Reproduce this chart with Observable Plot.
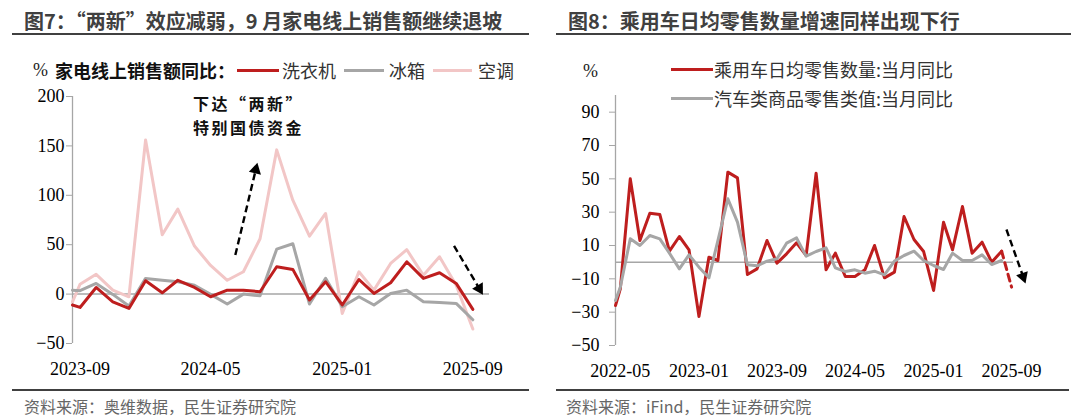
<!DOCTYPE html>
<html><head><meta charset="utf-8">
<script src="https://cdn.jsdelivr.net/npm/d3@7"></script>
<script src="https://cdn.jsdelivr.net/npm/@observablehq/plot@0.6"></script>
<style>
body{margin:0;background:#fff;width:1080px;height:418px;position:relative;overflow:hidden;font-family:"Noto Sans CJK SC",sans-serif;}
.abs{position:absolute;white-space:nowrap;}
.title{font-size:20px;font-weight:bold;color:#404040;line-height:24px;}
.hr{position:absolute;height:2px;background:#404040;}
.src{font-size:16px;color:#666;line-height:20px;}
.leg{font-size:18px;color:#333;line-height:22px;}
.pct{font-family:"Liberation Serif",serif;font-size:18px;color:#222;line-height:22px;}
.sw{position:absolute;height:3px;}
.note{font-size:16px;font-weight:bold;color:#111;line-height:24px;letter-spacing:2.5px;}
.plot{position:absolute;top:85px;}
.plot svg text{fill:#000;}
</style></head><body>

<div class="abs title" style="left:24px;top:9px;">图7：“两新”效应减弱，9 月家电线上销售额继续退坡</div>
<div class="hr" style="left:12px;width:517px;top:33px;"></div>
<div class="abs title" style="left:568px;top:9px;">图8：乘用车日均零售数量增速同样出现下行</div>
<div class="hr" style="left:556px;width:515px;top:33px;"></div>

<div id="left" class="plot" style="left:0px;"></div>
<div id="right" class="plot" style="left:540px;"></div>

<div class="abs pct" style="left:33px;top:59px;">%</div>
<div class="abs leg" style="left:55px;top:59px;font-weight:bold;color:#111;">家电线上销售额同比：</div>
<div class="sw" id="swL0" style="left:237px;width:42px;top:69px;"></div>
<div class="abs leg" id="lgL0" style="left:282px;top:59px;"></div>
<div class="sw" id="swL1" style="left:344px;width:40px;top:69px;"></div>
<div class="abs leg" id="lgL1" style="left:389px;top:59px;"></div>
<div class="sw" id="swL2" style="left:433px;width:39px;top:69px;"></div>
<div class="abs leg" id="lgL2" style="left:478px;top:59px;"></div>

<div class="abs note" style="left:193px;top:91px;">下达“两新”<br>特别国债资金</div>

<div class="abs pct" style="left:583px;top:60px;">%</div>
<div class="sw" id="swR0" style="left:671px;width:42px;top:68px;"></div>
<div class="abs leg" id="lgR0" style="left:714px;top:58px;"></div>
<div class="sw" id="swR1" style="left:671px;width:42px;top:97px;"></div>
<div class="abs leg" id="lgR1" style="left:714px;top:87px;"></div>

<div class="hr" style="left:12px;width:517px;top:389px;"></div>
<div class="abs src" style="left:24px;top:396px;">资料来源：奥维数据，民生证券研究院</div>
<div class="hr" style="left:556px;width:513px;top:389px;"></div>
<div class="abs src" style="left:566px;top:396px;">资料来源：iFind，民生证券研究院</div>

<script>
// ---------- Figure 7 data ----------
const leftDates = ["2023-08-18","2023-09-01","2023-10-01","2023-11-01","2023-12-01","2024-01-01","2024-02-01","2024-03-01","2024-04-01","2024-05-01","2024-06-01","2024-07-01","2024-08-01","2024-09-01","2024-10-01","2024-11-01","2024-12-01","2025-01-01","2025-02-01","2025-03-01","2025-04-01","2025-05-01","2025-06-01","2025-07-01","2025-08-01","2025-09-01"];
const leftSeriesNames = ["洗衣机","冰箱","空调"];
const washer = [-11,-13.5,6.7,-7.8,-14.5,13.5,1.3,14,6.7,-2.7,4,4,2.4,27.7,25,-6,12.5,-11,14.8,0.7,11.5,32.7,15.9,21.6,10.8,-15.5];
const fridge = [4,3.4,10.8,-0.3,-12,15.9,14,12.5,9,-0.3,-10,0,-1.7,45.5,51,-10,16,-12.8,-2.7,-11,0.7,4,-7.8,-8.4,-9.4,-26];
const aircon = [-7.8,10,20,4,-2.7,156,60,86,48.6,29,14,22.6,56,146,95,58.7,81.6,-19.6,22.6,4,31,45,19,37.8,9,-35.4];
const leftXTicks = ["2023-09-01","2024-05-01","2025-01-01","2025-09-01"];
const leftYTicks = [-50,0,50,100,150,200];
const leftArrows = [
  {x1:"2024-06-16", y1:39.5, x2:"2024-07-24", y2:125.8},
  {x1:"2025-07-28", y1:48.9, x2:"2025-09-13", y2:5.6}
];

// ---------- Figure 8 data ----------
const rightDates = ["2022-04-16","2022-05-01","2022-06-01","2022-07-01","2022-08-01","2022-09-01","2022-10-01","2022-11-01","2022-12-01","2023-01-01","2023-02-01","2023-03-01","2023-04-01","2023-05-01","2023-06-01","2023-07-01","2023-08-01","2023-09-01","2023-10-01","2023-11-01","2023-12-01","2024-01-01","2024-02-01","2024-03-01","2024-04-01","2024-05-01","2024-06-01","2024-07-01","2024-08-01","2024-09-01","2024-10-01","2024-11-01","2024-12-01","2025-01-01","2025-02-01","2025-03-01","2025-04-01","2025-05-01","2025-06-01","2025-07-01","2025-08-01","2025-09-01"];
const rightSeriesNames = ["乘用车日均零售数量:当月同比","汽车类商品零售类值:当月同比"];
const carDailySales = [-26,-16,50,13,29.4,28.6,6.6,15.4,7.4,-32.6,3,1,54,50.6,-7.4,-4,13,-0.6,5,11.6,4,53.4,-4.6,5.4,-8.6,-8.6,-4.6,10,-9.4,-6,27.4,13.6,6.4,-17,24,7.4,33.4,5.4,12,0,6.6,-15];
const autoRetail = [-23,-15,14,10,16,14,5.4,-4,4.4,-3,-9.4,13,38,24,-1.6,-2.2,0.6,2,11.4,14.6,3.6,6.4,8.6,-3.4,-5.6,-4.6,-6.6,-5.4,-7.6,0.6,4,6.6,1,-2,-4.4,5.4,1,1,4.4,-1.4,1];
const rightXTicks = ["2022-05-01","2023-01-01","2023-09-01","2024-05-01","2025-01-01","2025-09-01"];
const rightYTicks = [-50,-30,-10,10,30,50,70,90];
const rightArrows = [
  {x1:"2025-08-16", y1:19.6, x2:"2025-10-07", y2:-8.7}
];

// ---------- styling ----------
const RED = "#BE1E1E", GRAY = "#A6A6A6", PINK = "#F2C6C6", AXIS = "#A6A6A6";
const leftColors = [RED, GRAY, PINK];
const rightColors = [RED, GRAY];

const D = s => new Date(s);
leftSeriesNames.forEach((n,i)=>{document.getElementById("lgL"+i).textContent=n;document.getElementById("swL"+i).style.background=leftColors[i];});
rightSeriesNames.forEach((n,i)=>{document.getElementById("lgR"+i).textContent=n;document.getElementById("swR"+i).style.background=rightColors[i];});

function rows(dates, vals){ return vals.map((v,i)=>({date:D(dates[i]), v})); }

function arrowMarks(arrows, xs, ys){
  const a = arrows.map(d=>{
    const dx = xs.apply(D(d.x2)) - xs.apply(D(d.x1));
    const dy = ys.apply(d.y2) - ys.apply(d.y1);
    return {...d, d1:D(d.x1), d2:D(d.x2), rot: Math.atan2(dx, -dy)*180/Math.PI};
  });
  return [
    Plot.link(a, {x1:"d1", y1:"y1", x2:"d2", y2:"y2", stroke:"#000", strokeWidth:2.4, strokeDasharray:"7,4"}),
    Plot.dot(a, {x:"d2", y:"y2", symbol:"triangle", r:4.6, fill:"#000", stroke:"none", rotate:"rot"})
  ];
}

// Left plot
{
  const W=540,H=300,ml=72,mr=51,mt=11,mb=42;
  const xDomain=[D("2023-08-18"),D("2025-10-02")], yDomain=[-50,200];
  const xs = Plot.scale({x:{type:"utc", domain:xDomain, range:[ml, W-mr]}});
  const ys = Plot.scale({y:{type:"linear", domain:yDomain, range:[H-mb, mt]}});
  const p = Plot.plot({
    width:W, height:H, marginLeft:ml, marginRight:mr, marginTop:mt, marginBottom:mb,
    style:{fontFamily:"'Liberation Serif', serif", fontSize:"18px", color:AXIS, background:"transparent", overflow:"visible"},
    x:{type:"utc", domain:xDomain, ticks:leftXTicks.map(D), tickFormat:d3.utcFormat("%Y-%m"), tickSize:0, tickPadding:19, label:null},
    y:{domain:yDomain, ticks:leftYTicks, tickSize:6, tickPadding:2, label:null},
    marks:[
      Plot.ruleX([xDomain[0]], {y1:yDomain[0], y2:yDomain[1], stroke:AXIS, strokeWidth:1.3}),
      Plot.ruleY([0], {stroke:AXIS, strokeWidth:1.5}),
      Plot.line(rows(leftDates, aircon), {x:"date", y:"v", stroke:PINK, strokeWidth:3}),
      Plot.line(rows(leftDates, fridge), {x:"date", y:"v", stroke:GRAY, strokeWidth:3}),
      Plot.line(rows(leftDates, washer), {x:"date", y:"v", stroke:RED, strokeWidth:3}),
      ...arrowMarks(leftArrows, xs, ys)
    ]
  });
  document.getElementById("left").appendChild(p);
}

// Right plot
{
  const W=540,H=300,ml=75,mr=67,mt=10,mb=40;
  const xDomain=[D("2022-04-16"),D("2025-09-07")], yDomain=[-50,100];
  const xs = Plot.scale({x:{type:"utc", domain:xDomain, range:[ml, W-mr]}});
  const ys = Plot.scale({y:{type:"linear", domain:yDomain, range:[H-mb, mt]}});
  const red = rows(rightDates, carDailySales);
  const p = Plot.plot({
    width:W, height:H, marginLeft:ml, marginRight:mr, marginTop:mt, marginBottom:mb,
    style:{fontFamily:"'Liberation Serif', serif", fontSize:"18px", color:AXIS, background:"transparent", overflow:"visible"},
    x:{type:"utc", domain:xDomain, ticks:rightXTicks.map(D), tickFormat:d3.utcFormat("%Y-%m"), tickSize:0, tickPadding:19, label:null},
    y:{domain:yDomain, ticks:rightYTicks, tickSize:6, tickPadding:10, label:null},
    marks:[
      Plot.ruleX([xDomain[0]], {y1:yDomain[0], y2:yDomain[1], stroke:AXIS, strokeWidth:1.3}),
      Plot.ruleY([0], {stroke:AXIS, strokeWidth:1.5}),
      Plot.line(red.slice(0, red.length-1), {x:"date", y:"v", stroke:RED, strokeWidth:3}),
      Plot.line(red.slice(red.length-2), {x:"date", y:"v", stroke:RED, strokeWidth:3, strokeDasharray:"7,5"}),
      Plot.line(rows(rightDates, autoRetail), {x:"date", y:"v", stroke:GRAY, strokeWidth:3}),
      ...arrowMarks(rightArrows, xs, ys)
    ]
  });
  document.getElementById("right").appendChild(p);
}
</script>
</body></html>
